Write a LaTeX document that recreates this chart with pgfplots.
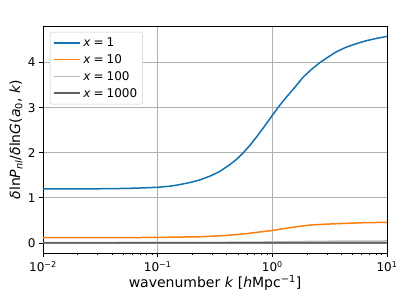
\documentclass[border=0pt]{standalone}
\usepackage{pgfplots}
\pgfplotsset{compat=1.18}
\usepackage{fontspec}
\setmainfont{DejaVu Sans}
\definecolor{cblue}{RGB}{18,113,176}
\definecolor{corange}{RGB}{255,127,14}
\definecolor{clgray}{RGB}{185,185,185}
\definecolor{cdgray}{RGB}{95,95,95}
\definecolor{cgrid}{RGB}{176,176,176}
\newcommand{\vi}[1]{\textit{#1}}
\newcommand{\eq}{\kern3pt=\kern3pt}
\begin{document}
\begin{tikzpicture}
\useasboundingbox (0,0) rectangle (407pt,305pt);
\begin{axis}[
  at={(43pt,52pt)}, anchor=south west,
  scale only axis, width=344pt, height=227pt,
  xmode=log, xmin=0.01, xmax=10,
  ymin=-0.22, ymax=4.81,
  ytick={0,1,2,3,4},
  xtick={0.01,0.1,1,10},
  xticklabels={10\textsuperscript{−2},10\textsuperscript{−1},10\textsuperscript{0},10\textsuperscript{1}},
  /pgf/number format/assume math mode=true,
  tick label style={font=\fontsize{12}{14}\selectfont},
  xticklabel style={yshift=-1pt},
  grid=major, major grid style={cgrid, line width=0.9pt},
  axis line style={line width=0.9pt, black},
  tick style={black, line width=0.9pt},
  tick align=outside, xtick pos=bottom, ytick pos=left,
  major tick length=4pt, minor tick length=2.3pt,
  minor x tick num=8, minor tick style={line width=0.6pt},
  xlabel={wavenumber \vi{k} [\vi{h}Mpc\textsuperscript{−1}]},
  ylabel={\vi{δ}ln\vi{P}\textsubscript{\vi{nl}}/\vi{δ}ln\vi{G}(\vi{a}\textsubscript{0}, \vi{k})},
  label style={font=\fontsize{14}{16}\selectfont},
  xlabel style={at={(axis description cs:0.5,0)}, anchor=center, yshift=-30pt},
  ylabel style={at={(axis description cs:-0.0785,0.5)}, anchor=center},
  legend style={at={(axis description cs:0.02,0.974)}, anchor=north west,
    draw=black!20, rounded corners=2pt, fill=white,
    font=\fontsize{12}{14}\selectfont, row sep=2.5pt, inner sep=3.5pt},
  legend cell align=left,
  legend image code/.code={\draw[#1, line width=1.8pt] plot coordinates {(0pt,0pt) (13pt,0pt) (26pt,0pt)};},
]
\addplot[color=cblue, line width=1.5pt] coordinates {
(0.01,1.200)(0.02,1.201)(0.03,1.203)(0.05,1.210)(0.07,1.220)(0.1,1.236)
(0.13,1.262)(0.156,1.296)(0.19,1.34)(0.234,1.40)(0.29,1.49)(0.349,1.59)(0.427,1.74)
(0.49,1.86)(0.557,2.00)(0.64,2.17)(0.728,2.35)(0.85,2.58)(1.0,2.83)(1.15,3.04)(1.334,3.24)
(1.58,3.46)(1.862,3.68)(2.2,3.85)(2.60,4.00)(3.1,4.13)(3.63,4.24)(4.4,4.34)(5.43,4.42)(6.4,4.475)(7.59,4.52)(10,4.58)
};
\addlegendentry{\vi{x}\eq 1}
\addplot[color=corange, line width=1.5pt] coordinates {
(0.01,0.118)(0.03,0.119)(0.1,0.125)(0.234,0.14)(0.4,0.17)(0.6,0.21)(1.0,0.28)(1.5,0.35)(2.14,0.40)(3,0.42)(4.17,0.435)(6,0.45)(10,0.46)
};
\addlegendentry{\vi{x}\eq 10}
\addplot[color=clgray, line width=1.5pt] coordinates {
(0.01,0.012)(0.1,0.013)(0.3,0.016)(1,0.025)(2,0.035)(3,0.040)(5,0.044)(10,0.046)
};
\addlegendentry{\vi{x}\eq 100}
\addplot[color=cdgray, line width=1.5pt] coordinates {
(0.01,0.002)(0.1,0.002)(1,0.003)(3,0.004)(10,0.005)
};
\addlegendentry{\vi{x}\eq 1000}
\end{axis}
\end{tikzpicture}
\end{document}
